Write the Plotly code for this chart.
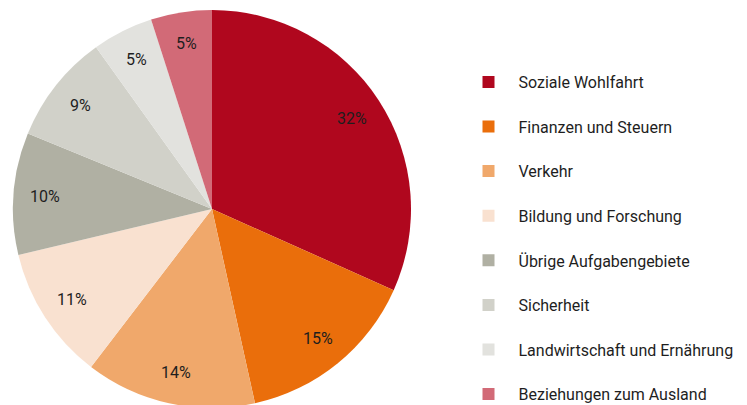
import math
import plotly.graph_objects as go

categories = ["Soziale Wohlfahrt", "Finanzen und Steuern", "Verkehr", "Bildung und Forschung",
              "Übrige Aufgabengebiete", "Sicherheit", "Landwirtschaft und Ernährung",
              "Beziehungen zum Ausland"]
shares = [32, 15, 14, 11, 10, 9, 5, 5]
colors = ["#B0071E", "#EA6E0B", "#F0A86B", "#F9E1D0", "#B0B0A3", "#D1D1C9", "#E2E2DE", "#D26A77"]

W, H = 747, 440
FONT = "Roboto"
TXT = "#1e1e1e"

# pie geometry in figure pixels (page has an 8px body margin)
pie_top, pie_bottom = 2, 400
pie_x = [0, 408 / W]
pie_y = [1 - pie_bottom / H, 1 - pie_top / H]
cx = (pie_x[0] + pie_x[1]) / 2 * W
cy = (1 - (pie_y[0] + pie_y[1]) / 2) * H
R = min((pie_x[1] - pie_x[0]) * W, (pie_y[1] - pie_y[0]) * H) / 2

fig = go.Figure(go.Pie(
    labels=[c + "<br>&nbsp;" for c in categories],
    values=shares,
    marker=dict(colors=colors, line=dict(width=0)),
    sort=False,
    direction="clockwise",
    rotation=0,
    textinfo="none",
    domain=dict(x=pie_x, y=pie_y),
    hoverinfo="label+percent",
))

total = sum(shares)
cum = 0
annos = []
for v in shares:
    m = (cum + v / 2) / total
    th = 2 * math.pi * m
    rl = 0.84 * R
    px = cx + rl * math.sin(th)
    py = cy - rl * math.cos(th)
    annos.append(dict(x=px / W, y=1 - py / H, xref="paper", yref="paper",
                      text=f"{v}%", showarrow=False,
                      font=dict(family=FONT, size=16, color=TXT),
                      xanchor="center", yanchor="middle"))
    cum += v

fig.update_layout(
    width=W, height=H,
    margin=dict(l=0, r=0, t=0, b=0),
    paper_bgcolor="white",
    plot_bgcolor="white",
    annotations=annos,
    showlegend=True,
    legend=dict(x=450.5 / W, xanchor="left", y=1 - 57 / H, yanchor="top",
                font=dict(family=FONT, size=16, color=TXT),
                itemwidth=50, valign="top", bgcolor="rgba(0,0,0,0)"),
)

fig.write_html("out.html")
